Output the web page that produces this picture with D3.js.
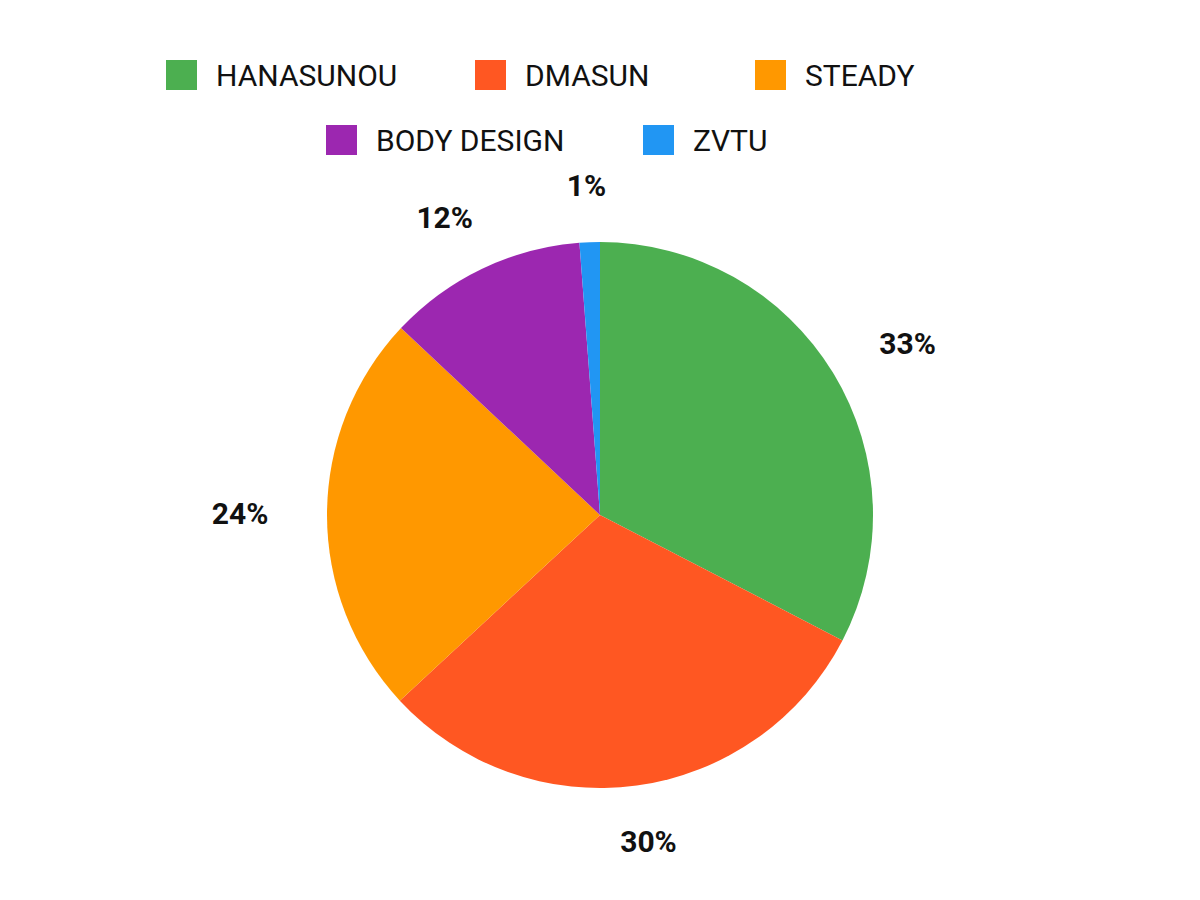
<!DOCTYPE html>
<html>
<head>
<meta charset="utf-8">
<script src="https://cdn.jsdelivr.net/npm/d3@7"></script>
<style>
  body { margin: 0; background: #fff; }
  svg text { font-family: Roboto, "Noto Sans", sans-serif; }
</style>
</head>
<body>
<svg id="chart" width="1200" height="900"></svg>
<script>
/* ===== DATA ===== */
const categories = ["HANASUNOU", "DMASUN", "STEADY", "BODY DESIGN", "ZVTU"];
const values = [32.6, 30.5, 23.9, 11.8, 1.2];
const labels = ["33%", "30%", "24%", "12%", "1%"];
const colors = ["#4CAF50", "#FF5722", "#FF9800", "#9C27B0", "#2196F3"];

/* ===== SETUP ===== */
const svg = d3.select("#chart");
const cx = 600, cy = 515, radius = 273;

const color = d3.scaleOrdinal().domain(categories).range(colors);

const pie = d3.pie().sort(null).value((d) => d.value);
const arc = d3.arc().innerRadius(0).outerRadius(radius);
const labelArc = d3.arc().innerRadius(330).outerRadius(330);

const rows = categories.map((c, i) => ({ name: c, value: values[i], label: labels[i] }));
const arcs = pie(rows);

const g = svg.append("g").attr("transform", `translate(${cx},${cy})`);

g.selectAll("path.slice")
  .data(arcs)
  .enter()
  .append("path")
  .attr("class", "slice")
  .attr("d", arc)
  .attr("fill", (d) => color(d.data.name));

/* ===== LABELS ===== */
g.selectAll("text.pct")
  .data(arcs)
  .enter()
  .append("text")
  .attr("class", "pct")
  .attr("transform", (d) => {
    const [x, y] = labelArc.centroid(d);
    const mid = (d.startAngle + d.endAngle) / 2;
    return `translate(${x + 30 * Math.sin(mid)},${y})`;
  })
  .attr("text-anchor", "middle")
  .attr("dy", "0.35em")
  .style("font-size", "30px")
  .style("font-weight", "bold")
  .attr("fill", "#111")
  .text((d) => d.data.label);

/* ===== LEGEND ===== */
const legendPos = [
  [166, 75], [475, 75], [755, 75],
  [326, 140], [643, 140]
];

const legend = svg.selectAll("g.legend")
  .data(categories)
  .enter()
  .append("g")
  .attr("class", "legend")
  .attr("transform", (d, i) => `translate(${legendPos[i][0]},${legendPos[i][1]})`);

legend.append("rect")
  .attr("x", 0)
  .attr("y", -15)
  .attr("width", 31)
  .attr("height", 30)
  .attr("fill", (d) => color(d));

legend.append("text")
  .attr("x", 50)
  .attr("dy", "0.36em")
  .style("font-size", "30px")
  .attr("fill", "#111")
  .text((d) => d);
</script>
</body>
</html>
